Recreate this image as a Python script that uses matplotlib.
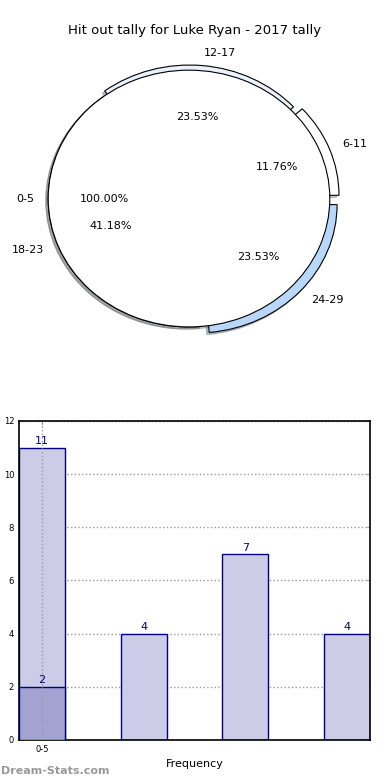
import matplotlib
matplotlib.use('Agg')
import matplotlib.pyplot as plt

# Pie data
pie_labels = ['6-11', '12-17', '18-23', '24-29']
pie_values = [2, 4, 7, 4]
pie_colors = ['#ffffff', '#eaf2fd', '#d6e6fa', '#b9d7fb']
pie_explode = [0.07, 0.04, 0.0, 0.07]
top_labels = ['0-5']
top_values = [11]

# Bar data
bar_values = [11, 4, 7, 4]
bar_highlight = [2]
tick_labels = ['0-5']

fig = plt.figure(figsize=(3.9, 7.8), dpi=100)

# Pie chart
shadow = {'ox': -0.012, 'oy': -0.012, 'shade': 0.5, 'alpha': 0.45}
ax1 = fig.add_axes([0.0333, 0.5397, 0.9026, 0.4115])
ax1.pie(pie_values, labels=pie_labels, colors=pie_colors, explode=pie_explode,
        autopct='%1.2f%%', shadow=shadow, startangle=0,
        wedgeprops={'edgecolor': 'black', 'linewidth': 0.8},
        textprops={'fontsize': 8})
ax1.pie(top_values, labels=top_labels, colors=['white'], autopct='%1.2f%%',
        shadow=shadow, startangle=0,
        wedgeprops={'edgecolor': 'black', 'linewidth': 0.8},
        textprops={'fontsize': 8})
ax1.set_aspect('auto')
ax1.set_xlim(-1.25, 1.25)
ax1.set_ylim(-1.25, 1.25)
fig.text(0.5, 0.961, 'Hit out tally for Luke Ryan - 2017 tally',
         ha='center', va='center', fontsize=9.5)

# Bar chart
ax2 = fig.add_axes([0.0487, 0.0513, 0.9, 0.409])
x = list(range(len(bar_values)))
bars = ax2.bar(x, bar_values, width=0.45, color='#ccccE6', edgecolor='navy',
               linewidth=1, zorder=2)
hb = ax2.bar([0], bar_highlight, width=0.45, color='#a3a3d1', edgecolor='navy',
             linewidth=1, zorder=3)
for b in list(bars) + list(hb):
    h = b.get_height()
    ax2.text(b.get_x() + b.get_width() / 2, h + 0.05, '%d' % h, ha='center',
             va='bottom', color='navy', fontsize=8, zorder=4)
ax2.set_xlim(-0.225, 3.225)
ax2.set_ylim(0, 12)
ax2.set_yticks(range(0, 13, 2))
ax2.set_xticks([0])
ax2.set_xticklabels(tick_labels)
ax2.tick_params(labelsize=6, direction='in', top=True, right=True, length=3,
                color='#aaaaaa')
ax2.grid(True, axis='y', linestyle=':', color='#999999', linewidth=1, zorder=0)
ax2.set_axisbelow(True)
# x gridline drawn over the bars, as in the original
ax2.axvline(0, linestyle=':', color='#999999', linewidth=1, zorder=3.5)
for s in ax2.spines.values():
    s.set_linewidth(1.2)
ax2.set_xlabel('Frequency', fontsize=8)
ax2.set_ylabel('Stat Hit Outs', fontsize=8)
ax2.yaxis.set_label_coords(-0.075, 0.5)

fig.text(0.002, 0.012, 'Dream-Stats.com', color='#999999', fontsize=8,
         fontweight='bold', ha='left', va='center')

plt.savefig('out.png', dpi=100)
plt.close()
